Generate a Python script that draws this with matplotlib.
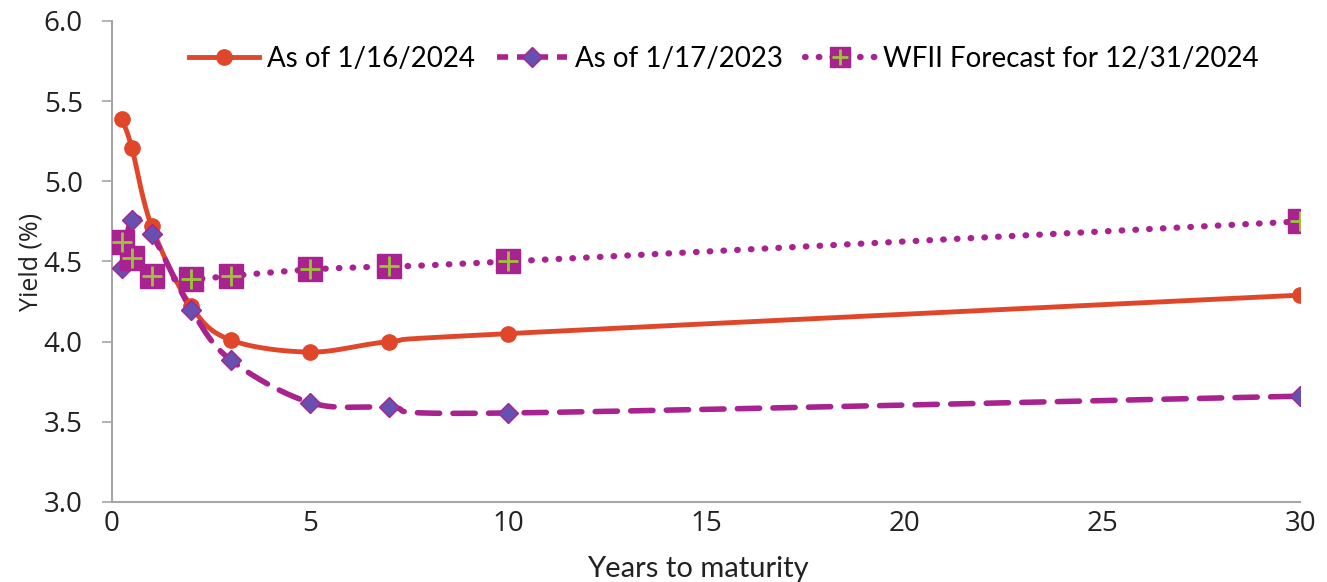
import numpy as np
import matplotlib
matplotlib.use('Agg')
import matplotlib.pyplot as plt
from matplotlib.lines import Line2D

# yield curve data, years to maturity vs yield (%)
maturities = [0.25, 0.5, 1, 2, 3, 5, 7, 10, 30]
yield_2024 = [5.39, 5.21, 4.72, 4.22, 4.01, 3.935, 4.00, 4.05, 4.29]
yield_2023 = [4.46, 4.76, 4.67, 4.20, 3.885, 3.62, 3.59, 3.555, 3.66]
forecast_2024 = [4.62, 4.52, 4.41, 4.39, 4.41, 4.45, 4.47, 4.50, 4.75]

labels = ['As of 1/16/2024', 'As of 1/17/2023', 'WFII Forecast for 12/31/2024']

ORANGE = '#E0462A'
MAGENTA = '#A8238F'
DIAMOND = '#6750B0'
GREEN = '#9CC43A'
GRAY = '#A6A6A6'


def smooth(x, y, n=40):
    # excel-like smoothed line: cubic bezier with catmull-rom control points
    x = np.asarray(x, float)
    y = np.asarray(y, float)
    pts = np.column_stack([x, y])
    out = []
    t = np.linspace(0, 1, n)[:, None]
    for i in range(len(pts) - 1):
        p0 = pts[i - 1] if i > 0 else pts[i]
        p1 = pts[i]
        p2 = pts[i + 1]
        p3 = pts[i + 2] if i + 2 < len(pts) else pts[i + 1]
        c1 = p1 + (p2 - p0) / 6
        c2 = p2 - (p3 - p1) / 6
        seg = ((1 - t) ** 3) * p1 + 3 * ((1 - t) ** 2) * t * c1 + 3 * (1 - t) * t ** 2 * c2 + t ** 3 * p2
        out.append(seg if i == 0 else seg[1:])
    out = np.vstack(out)
    return out[:, 0], out[:, 1]


fig = plt.figure(figsize=(13.27, 5.82), dpi=100)
ax = fig.add_axes([0.0844, 0.1375, 0.8956, 0.8265])

txt_font = 'Lato'

sx, sy = smooth(maturities, yield_2024)
ax.plot(sx, sy, color=ORANGE, lw=3.5, solid_capstyle='round', zorder=3)
ax.plot(maturities, yield_2024, 'o', color=ORANGE, ms=11, zorder=4)

sx, sy = smooth(maturities, yield_2023)
ax.plot(sx, sy, color=MAGENTA, lw=4, dashes=(4.0, 2.4), dash_capstyle='round', zorder=3)
ax.plot(maturities, yield_2023, 'D', color=DIAMOND, mec=MAGENTA, mew=1, ms=10.5, zorder=4)

sx, sy = smooth(maturities, forecast_2024)
ax.plot(sx, sy, color=MAGENTA, lw=4.5, dashes=(0.1, 2.1), dash_capstyle='round', zorder=3)
ax.plot(maturities, forecast_2024, 's', color=MAGENTA, ms=17, zorder=4)
ax.plot(maturities, forecast_2024, '+', color=GREEN, ms=14, mew=2, zorder=5)

h1 = Line2D([], [], color=ORANGE, lw=3.5, marker='o', ms=11)
h2 = Line2D([], [], color=MAGENTA, lw=4, dashes=(2.0, 1.6), marker='D', mfc=DIAMOND, mec=MAGENTA, ms=10)
h3a = Line2D([], [], color=MAGENTA, lw=4.5, dashes=(0.1, 2.1), dash_capstyle='round', marker='s', ms=15)
h3b = Line2D([], [], ls='none', marker='+', color=GREEN, ms=12, mew=2)
ax.legend([h1, h2, (h3a, h3b)], labels, loc='upper center', bbox_to_anchor=(0.515, 1.0),
          ncol=3, frameon=False, handlelength=2.5, handletextpad=0.3, columnspacing=0.8,
          prop={'family': txt_font, 'size': 20})

ax.set_xlim(0, 30)
ax.set_ylim(3.0, 6.0)
ax.set_xticks([0, 5, 10, 15, 20, 25, 30])
ax.set_yticks(np.arange(3.0, 6.01, 0.5))
ax.yaxis.set_major_formatter(matplotlib.ticker.FormatStrFormatter('%.1f'))

for s in ['top', 'right']:
    ax.spines[s].set_visible(False)
for s in ['left', 'bottom']:
    ax.spines[s].set_color(GRAY)
    ax.spines[s].set_linewidth(1.5)
ax.tick_params(axis='y', colors=GRAY, length=7, width=1.2, labelcolor='#222222', labelsize=20,
               pad=14, labelfontfamily='Open Sans')
ax.tick_params(axis='x', colors=GRAY, length=0, labelcolor='#222222', labelsize=20,
               pad=6, labelfontfamily='Open Sans')

ax.set_ylabel('Yield (%)', fontsize=18, family='Open Sans', color='#222222', labelpad=0)
ax.set_xlabel('Years to maturity', fontsize=21, family=txt_font, color='#222222', labelpad=12)
ax.xaxis.set_label_coords(0.493, -0.112, transform=ax.transAxes)
ax.xaxis.label.set_va('top')

fig.savefig('out.png', dpi=100)
